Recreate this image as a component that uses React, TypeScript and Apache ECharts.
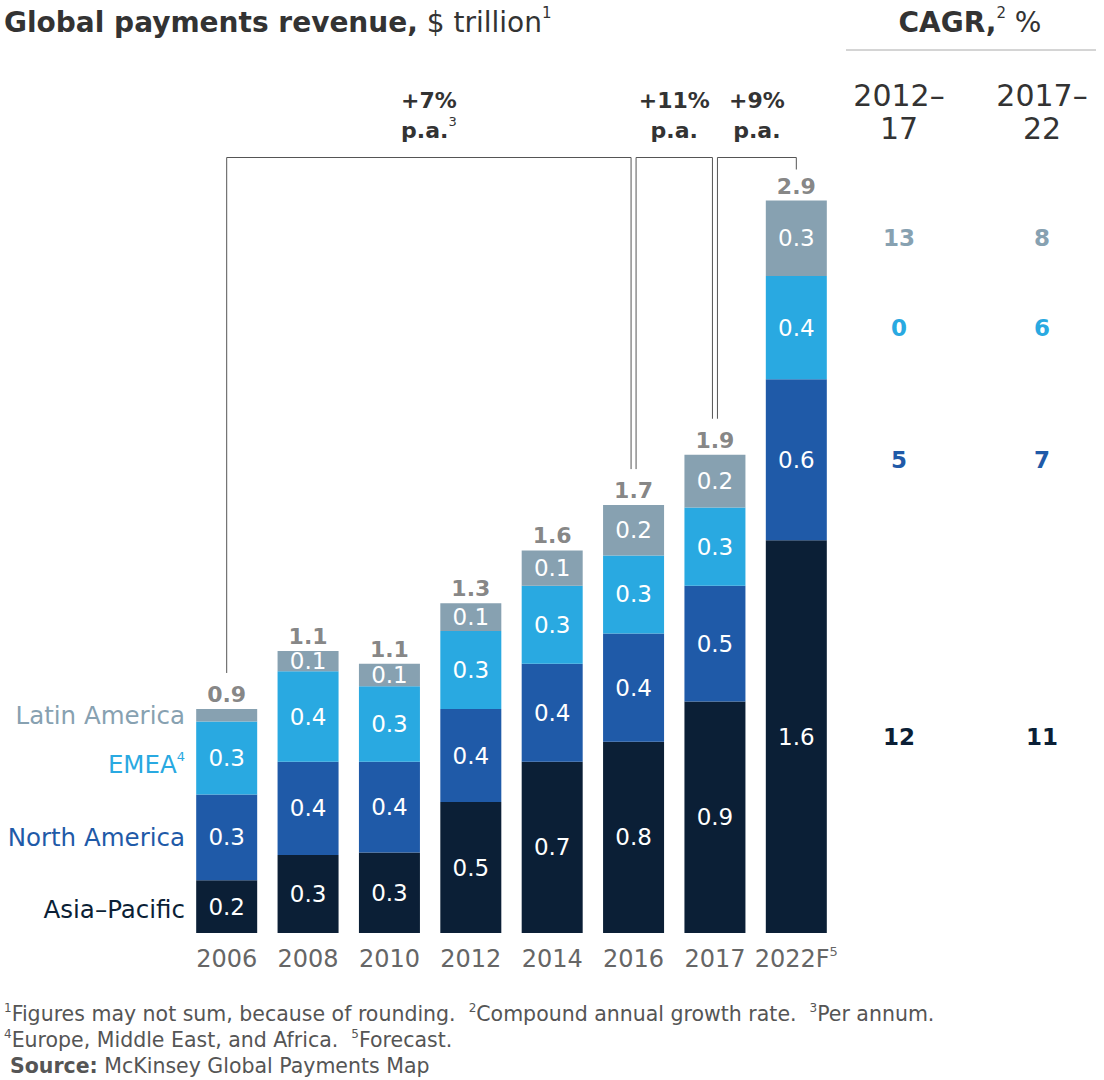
import React, { useEffect, useRef } from "react";
import * as echarts from "echarts";

const categories = ["2006", "2008", "2010", "2012", "2014", "2016", "2017", "2022F"];
const asiaPacific = [0.21, 0.31, 0.32, 0.52, 0.68, 0.76, 0.92, 1.56];
const northAmerica = [0.34, 0.37, 0.36, 0.37, 0.39, 0.43, 0.46, 0.64];
const emea = [0.29, 0.36, 0.3, 0.31, 0.31, 0.31, 0.31, 0.41];
const latinAmerica = [0.05, 0.08, 0.09, 0.11, 0.14, 0.2, 0.21, 0.3];
const totalLabels = ["0.9", "1.1", "1.1", "1.3", "1.6", "1.7", "1.9", "2.9"];
const seriesNames = ["Asia–Pacific", "North America", "EMEA", "Latin America"];
const seriesSup = ["", "", "4", ""];
const cagr2012to17 = [12, 5, 0, 13];
const cagr2017to22 = [11, 7, 6, 8];
const cagrHeaders = ["2012–\n17", "2017–\n22"];
const brackets = [
  { from: 0, to: 5, label: "+7%", sup: "3" },
  { from: 5, to: 6, label: "+11%", sup: "" },
  { from: 6, to: 7, label: "+9%", sup: "" },
];

const COLORS = ["#0b1f36", "#1f5aa8", "#29a9e1", "#87a1b1"];
const FF = '"DejaVu Sans", sans-serif';

function txt(x: number, y: number, text: string, rich: any, extra: any = {}) {
  const align = extra.align || "left";
  const va = extra.verticalAlign || "middle";
  return {
    type: "text",
    x,
    y,
    silent: true,
    style: {
      text,
      rich,
      align,
      textAlign: align,
      verticalAlign: va,
      textVerticalAlign: va,
      fontFamily: extra.fontFamily || FF,
      fontSize: extra.fontSize || 24,
      fill: extra.fill || "#333",
    },
  };
}

function tok(size: number, color: string, weight: string = "normal", family: string = FF, lh?: number, top = false) {
  const t: any = { fontSize: size, fontFamily: family, fontWeight: weight, fill: color, color };
  if (lh) t.lineHeight = lh;
  if (top) t.verticalAlign = "top";
  return t;
}

export default function App() {
  const ref = useRef<HTMLDivElement>(null);
  useEffect(() => {
    document.body.style.margin = "0";
    const chart = echarts.init(ref.current as HTMLDivElement, null, { renderer: "svg" });
    const seriesData = [asiaPacific, northAmerica, emea, latinAmerica];
    const totals = categories.map((_, i) => seriesData.reduce((s, arr) => s + arr[i], 0));

    chart.setOption({
      animation: false,
      grid: { left: 186, width: 651, top: 52, height: 881 },
      xAxis: {
        type: "category",
        data: categories,
        axisLine: { show: false },
        axisTick: { show: false },
        axisLabel: {
          interval: 0,
          margin: 12,
          hideOverlap: false,
          formatter: (v: string) => (v === "2022F" ? "{a|2022F}{s|5}" : "{a|" + v + "}"),
          rich: {
            a: { fontSize: 24, fontFamily: FF, color: "#666", lineHeight: 28 },
            s: { fontSize: 13, fontFamily: FF, color: "#666", verticalAlign: "top", lineHeight: 28 },
          },
        },
      },
      yAxis: { type: "value", min: 0, max: 3.5, show: false, splitLine: { show: false } },
      series: [
        ...seriesData.map((d, si) => ({
          type: "bar",
          name: seriesNames[si],
          stack: "total",
          data: d,
          barWidth: 61,
          silent: true,
          itemStyle: { color: COLORS[si] },
          label: {
            show: true,
            position: "inside",
            color: "#fff",
            fontSize: 23,
            fontFamily: FF,
            formatter: (p: any) => (p.value >= 0.07 ? p.value.toFixed(1) : ""),
          },
        })),
        {
          type: "scatter",
          data: totals,
          symbolSize: 1,
          silent: true,
          itemStyle: { color: "rgba(0,0,0,0)" },
          label: {
            show: true,
            position: "top",
            distance: 3,
            color: "#666",
            fontSize: 22,
            fontWeight: "bold",
            fontFamily: FF,
            formatter: (p: any) => totalLabels[p.dataIndex],
          },
        },
      ],
    });

    const xPx = (i: number) => chart.convertToPixel({ xAxisIndex: 0 }, categories[i]) as number;
    const yPx = (v: number) => chart.convertToPixel({ yAxisIndex: 0 }, v) as number;

    const g: any[] = [];
    g.push(
      txt(4, 22, "{b|Global payments revenue,}{r| $ trillion}{s|1}", {
        b: tok(28, "#333", "bold", FF, 34),
        r: tok(28, "#333", "normal", FF, 34),
        s: tok(15, "#333", "normal", FF, 34, true),
      })
    );
    g.push(
      txt(970, 22, "{b|CAGR,}{s|2}{r| %}", {
        b: tok(28, "#333", "bold", FF, 34),
        r: tok(28, "#333", "normal", FF, 34),
        s: tok(15, "#333", "normal", FF, 34, true),
      }, { align: "center" })
    );
    g.push({
      type: "line",
      silent: true,
      shape: { x1: 846, y1: 50, x2: 1096, y2: 50 },
      style: { stroke: "#aaa", lineWidth: 1 },
    });
    const colX = [899, 1042];
    cagrHeaders.forEach((h, k) => {
      g.push(
        txt(colX[k], 112, h.split("\n").map((l) => "{h|" + l + "}").join("\n"), {
          h: tok(30, "#333", "normal", FF, 33),
        }, { align: "center" })
      );
    });
    const last = categories.length - 1;
    let base = 0;
    seriesData.forEach((arr, si) => {
      const mid = yPx(base + arr[last] / 2);
      base += arr[last];
      const vals = [cagr2012to17[si], cagr2017to22[si]];
      vals.forEach((v, k) => {
        g.push(
          txt(colX[k], mid, "{v|" + v + "}", { v: tok(23, COLORS[si], "bold", FF) }, { align: "center" })
        );
      });
    });
    const legendOffsets = [3, 0, 6, 0];
    let b0 = 0;
    seriesData.forEach((arr, si) => {
      const mid = yPx(b0 + arr[0] / 2) + legendOffsets[si];
      b0 += arr[0];
      const sup = seriesSup[si] ? "{s|" + seriesSup[si] + "}" : "";
      g.push(
        txt(185, mid, "{n|" + seriesNames[si] + "}" + sup, {
          n: tok(24.5, COLORS[si], "normal", FF, 28),
          s: tok(13, COLORS[si], "normal", FF, 28, true),
        }, { align: "right" })
      );
    });
    const barTopGap = 36;
    const lineY = 157.5;
    const dxs = [
      [0, -2.5],
      [2.5, -2.5],
      [2.5, 0],
    ];
    brackets.forEach((br, k) => {
      const x1 = xPx(br.from) + dxs[k][0];
      const x2 = xPx(br.to) + dxs[k][1];
      const y1 = yPx(totals[br.from]) - barTopGap;
      const y2 = yPx(totals[br.to]) - (br.to === last ? 31 : barTopGap);
      g.push({
        type: "polyline",
        silent: true,
        shape: { points: [[x1, y1], [x1, lineY], [x2, lineY], [x2, y2]] },
        style: { stroke: "#555", lineWidth: 1, fill: null },
      });
      const sup = br.sup ? "{s|" + br.sup + "}" : "";
      g.push(
        txt((x1 + x2) / 2, 115, "{b|" + br.label + "}\n{b|p.a.}" + sup, {
          b: tok(22, "#333", "bold", FF, 30),
          s: tok(13, "#333", "normal", FF, 30, true),
        }, { align: "center" })
      );
    });
    const fr = {
      r: tok(20.5, "#555", "normal", FF, 25),
      s: tok(12, "#555", "normal", FF, 25, true),
      b: tok(20.5, "#555", "bold", FF, 25),
    };
    g.push(
      txt(4, 1014,
        "{s|1}{r|Figures may not sum, because of rounding.  }{s|2}{r|Compound annual growth rate.  }{s|3}{r|Per annum.}",
        fr)
    );
    g.push(txt(4, 1040, "{s|4}{r|Europe, Middle East, and Africa.  }{s|5}{r|Forecast.}", fr));
    g.push(txt(10, 1066, "{b|Source:}{r| McKinsey Global Payments Map}", fr));

    chart.setOption({ graphic: g });
    return () => chart.dispose();
  }, []);
  return <div ref={ref} style={{ width: 1104, height: 1080 }} />;
}
